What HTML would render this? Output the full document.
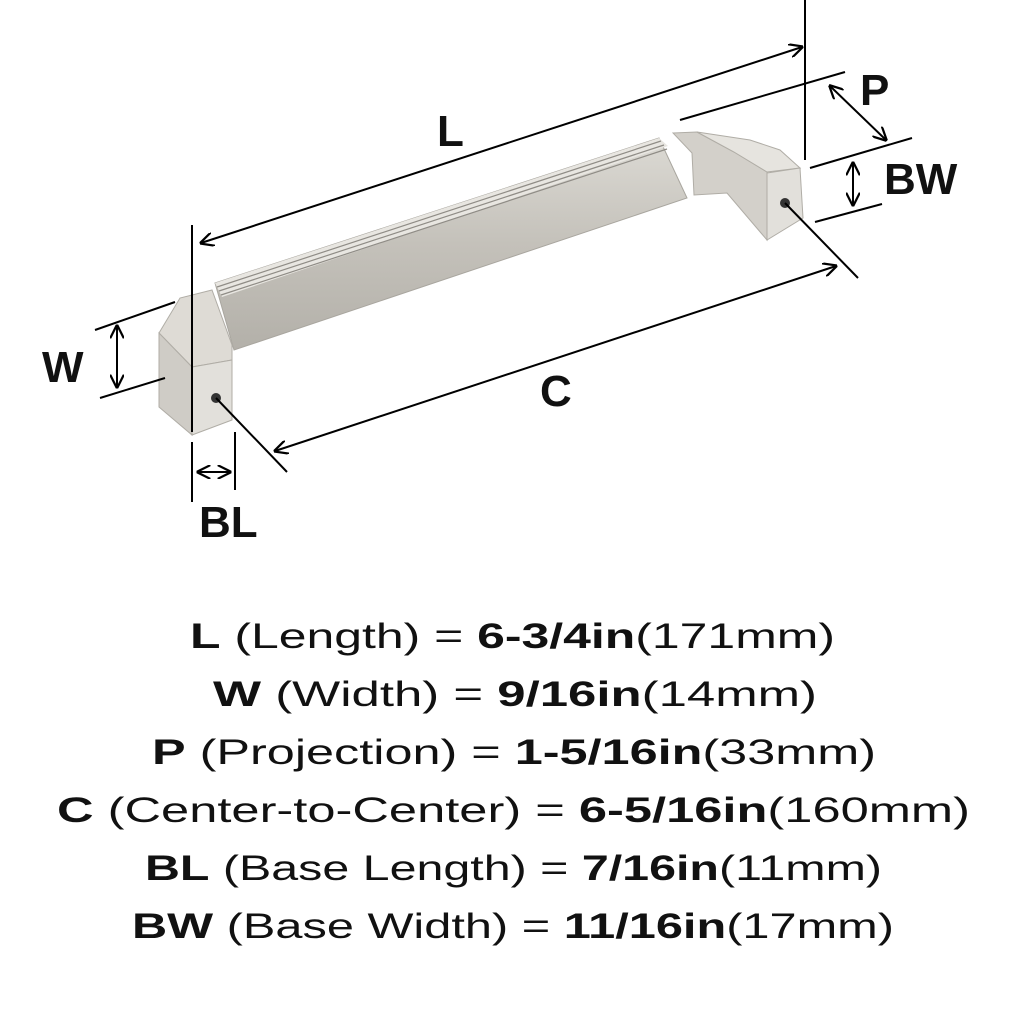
<!DOCTYPE html>
<html><head><style>html,body{margin:0;padding:0;background:#fff}svg{display:block}</style></head>
<body>
<svg width="1024" height="1024" viewBox="0 0 1024 1024" xmlns="http://www.w3.org/2000/svg">
<defs>
<linearGradient id="bar" x1="0" y1="0" x2="0" y2="1">
<stop offset="0" stop-color="#dcdad4"/><stop offset="0.5" stop-color="#c4c1ba"/><stop offset="1" stop-color="#b3b0a9"/>
</linearGradient>
<marker id="ah" viewBox="0 0 10 10" refX="9" refY="5" markerWidth="7" markerHeight="7" orient="auto-start-reverse">
<path d="M0,0 L10,5 L0,10" fill="none" stroke="#000" stroke-width="1.6"/>
</marker>
</defs>
<polygon points="215,283 659,138 687,198 234,350" fill="url(#bar)" stroke="#a9a69f" stroke-width="1"/>
<polygon points="215,283 659,138 668,146 222,297" fill="#e8e6e1"/>
<line x1="217" y1="287" x2="661" y2="141" stroke="#8f8c86" stroke-width="1.2"/>
<line x1="219" y1="291" x2="664" y2="145" stroke="#8f8c86" stroke-width="1.2"/>
<line x1="221" y1="295" x2="667" y2="149" stroke="#8f8c86" stroke-width="1.2"/>
<polygon points="159,333 180,298 212,290 232,345 232,360 192,367" fill="#dedbd5" stroke="#b0ada6"/>
<polygon points="159,333 192,367 192,435 159,407" fill="#cfccc6" stroke="#b0ada6"/>
<polygon points="192,367 232,360 232,420 192,435" fill="#e2e0db" stroke="#b0ada6"/>
<circle cx="216" cy="398" r="5" fill="#333"/>
<polygon points="673,133 697,132 734,152 767,172 767,240 727,193 694,195 692,153" fill="#d3d0ca" stroke="#b0ada6"/>
<polygon points="697,132 734,152 767,172 800,168 780,150 750,140" fill="#e6e4df" stroke="#b0ada6"/>
<polygon points="767,173 800,168 803,218 767,240" fill="#e2e0db" stroke="#b0ada6"/>
<circle cx="785" cy="203" r="5" fill="#333"/>
<g stroke="#000" stroke-width="2" fill="none">
<line x1="216" y1="398" x2="287" y2="472"/>
<line x1="785" y1="203" x2="858" y2="278"/>
<line x1="192" y1="225" x2="192" y2="432"/>
<line x1="805" y1="0" x2="805" y2="160"/>
<line x1="201" y1="243" x2="802" y2="47" marker-start="url(#ah)" marker-end="url(#ah)"/>
<line x1="275" y1="451" x2="836" y2="266" marker-start="url(#ah)" marker-end="url(#ah)"/>
<line x1="680" y1="120" x2="845" y2="72"/>
<line x1="810" y1="168" x2="912" y2="138"/>
<line x1="830" y1="86" x2="886" y2="140" marker-start="url(#ah)" marker-end="url(#ah)"/>
<line x1="815" y1="222" x2="882" y2="204"/>
<line x1="853" y1="163" x2="853" y2="205" marker-start="url(#ah)" marker-end="url(#ah)"/>
<line x1="95" y1="330" x2="175" y2="302"/>
<line x1="100" y1="398" x2="165" y2="378"/>
<line x1="117" y1="326" x2="117" y2="387" marker-start="url(#ah)" marker-end="url(#ah)"/>
<line x1="192" y1="442" x2="192" y2="502"/>
<line x1="235" y1="432" x2="235" y2="490"/>
<line x1="198" y1="472" x2="230" y2="472" marker-start="url(#ah)" marker-end="url(#ah)"/>
</g>
<g font-family="Liberation Sans, sans-serif" font-weight="bold" font-size="44" fill="#111">
<text x="437" y="146">L</text>
<text x="860" y="105">P</text>
<text x="884" y="194">BW</text>
<text x="42" y="382">W</text>
<text x="540" y="406">C</text>
<text x="199" y="537">BL</text>
</g>
<g font-family="Liberation Sans, sans-serif" font-size="35" fill="#111">
<text x="190" y="648" textLength="645" lengthAdjust="spacingAndGlyphs"><tspan font-weight="bold">L</tspan> (Length) = <tspan font-weight="bold">6-3/4in</tspan>(171mm)</text>
<text x="213" y="706" textLength="604" lengthAdjust="spacingAndGlyphs"><tspan font-weight="bold">W</tspan> (Width) = <tspan font-weight="bold">9/16in</tspan>(14mm)</text>
<text x="152" y="764" textLength="724" lengthAdjust="spacingAndGlyphs"><tspan font-weight="bold">P</tspan> (Projection) = <tspan font-weight="bold">1-5/16in</tspan>(33mm)</text>
<text x="57" y="822" textLength="913" lengthAdjust="spacingAndGlyphs"><tspan font-weight="bold">C</tspan> (Center-to-Center) = <tspan font-weight="bold">6-5/16in</tspan>(160mm)</text>
<text x="145" y="880" textLength="737" lengthAdjust="spacingAndGlyphs"><tspan font-weight="bold">BL</tspan> (Base Length) = <tspan font-weight="bold">7/16in</tspan>(11mm)</text>
<text x="132" y="938" textLength="762" lengthAdjust="spacingAndGlyphs"><tspan font-weight="bold">BW</tspan> (Base Width) = <tspan font-weight="bold">11/16in</tspan>(17mm)</text>
</g>
</svg>
</body></html>
